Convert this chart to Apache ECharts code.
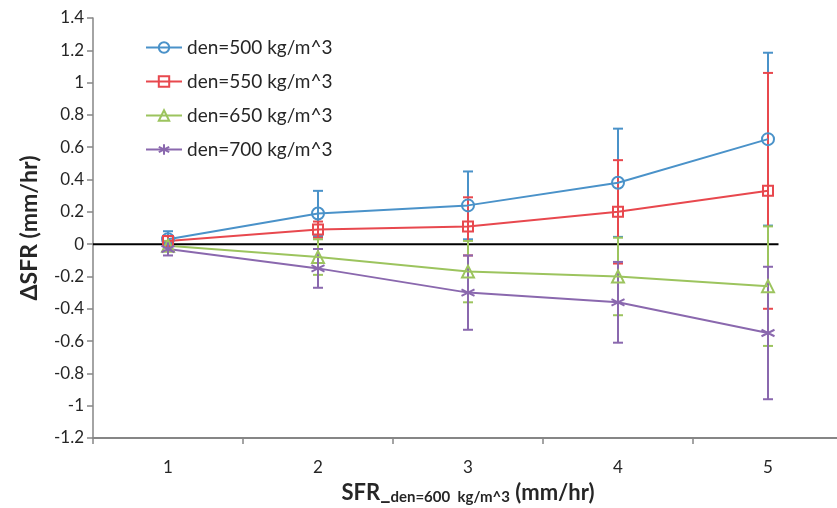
<!DOCTYPE html>
<html>
<head>
<meta charset="utf-8">
<script src="https://cdn.jsdelivr.net/npm/echarts@6/dist/echarts.min.js"></script>
<style>
  html, body { margin: 0; padding: 0; background: #ffffff; }
  #chart { width: 837px; height: 508px; }
</style>
</head>
<body>
<div id="chart"></div>
<script>
// Surface flame-rate differences relative to the 600 kg/m^3 reference density
var categories = ['1', '2', '3', '4', '5'];
var seriesNames = ['den=500 kg/m^3', 'den=550 kg/m^3', 'den=650 kg/m^3', 'den=700 kg/m^3'];

var den500 = [0.03, 0.19, 0.24, 0.38, 0.65];
var den550 = [0.02, 0.09, 0.11, 0.20, 0.33];
var den650 = [-0.01, -0.08, -0.17, -0.20, -0.26];
var den700 = [-0.03, -0.15, -0.30, -0.36, -0.55];

// symmetric error half-widths
var err500 = [0.05, 0.14, 0.21, 0.335, 0.535];
var err550 = [0.03, 0.05, 0.18, 0.32, 0.73];
var err650 = [0.03, 0.11, 0.19, 0.24, 0.37];
var err700 = [0.04, 0.12, 0.23, 0.25, 0.41];

var yTicks = { min: -1.2, max: 1.4, step: 0.2 };

// horizontal zero reference line (x in category units)
var zeroLine = [[0.5, 0], [5.07, 0]];

var colors = ['#4a92c9', '#e8484e', '#9cc45e', '#8a68ae'];
var asterisk = 'path://M5,0L5,10M0.7,2.5L9.3,7.5M0.7,7.5L9.3,2.5';
var symbols = ['circle', 'rect', 'triangle', asterisk];
var symbolSizes = [12, 10, 12, 13];
var values = [den500, den550, den650, den700];
var errors = [err500, err550, err650, err700];

var font = 'Lato, "Liberation Sans", sans-serif';

function errorData(vals, errs) {
  return vals.map(function (v, i) { return [i, v - errs[i], v + errs[i]]; });
}

function errorBarSeries(idx) {
  var c = colors[idx];
  return {
    type: 'custom',
    name: seriesNames[idx] + ' error',
    xAxisIndex: 0,
    yAxisIndex: 0,
    z: 2,
    silent: true,
    data: errorData(values[idx], errors[idx]),
    encode: { x: 0, y: [1, 2] },
    renderItem: function (params, api) {
      var lo = api.coord([api.value(0), api.value(1)]);
      var hi = api.coord([api.value(0), api.value(2)]);
      var half = 5;
      var style = { stroke: c, lineWidth: 2 };
      return {
        type: 'group',
        children: [
          { type: 'line', shape: { x1: lo[0], y1: lo[1], x2: hi[0], y2: hi[1] }, style: style },
          { type: 'line', shape: { x1: lo[0] - half, y1: lo[1], x2: lo[0] + half, y2: lo[1] }, style: style },
          { type: 'line', shape: { x1: hi[0] - half, y1: hi[1], x2: hi[0] + half, y2: hi[1] }, style: style }
        ]
      };
    }
  };
}

function lineSeries(idx) {
  var c = colors[idx];
  return {
    type: 'line',
    name: seriesNames[idx],
    xAxisIndex: 0,
    yAxisIndex: 0,
    z: 3,
    data: values[idx],
    symbol: symbols[idx],
    symbolSize: symbolSizes[idx],
    showSymbol: true,
    animation: false,
    lineStyle: { color: c, width: 2 },
    itemStyle: { color: 'rgba(255,255,255,0)', borderColor: c, borderWidth: 2 },
    emphasis: { disabled: true }
  };
}

var series = [];
series.push({
  type: 'line',
  name: 'zero',
  xAxisIndex: 1,
  yAxisIndex: 0,
  z: 1,
  data: zeroLine,
  symbol: 'none',
  silent: true,
  lineStyle: { color: '#000000', width: 2 }
});
for (var i = 0; i < 4; i++) series.push(errorBarSeries(i));
for (var j = 0; j < 4; j++) series.push(lineSeries(j));

var chart = echarts.init(document.getElementById('chart'), null, { renderer: 'canvas' });
chart.setOption({
  animation: false,
  backgroundColor: '#ffffff',
  grid: { left: 93, top: 18, bottom: 70, right: -6, containLabel: false, outerBoundsMode: 'none' },
  legend: {
    data: seriesNames,
    orient: 'vertical',
    left: 140,
    top: 33,
    itemWidth: 36,
    itemHeight: 13,
    itemGap: 15,
    textStyle: { fontFamily: font, fontSize: 19, color: '#262626' }
  },
  xAxis: [
    {
      type: 'category',
      data: categories,
      boundaryGap: true,
      axisLine: { onZero: false, lineStyle: { color: '#868686', width: 2 } },
      axisTick: { show: true, inside: false, length: 6, lineStyle: { color: '#868686', width: 1.5 } },
      axisLabel: { fontFamily: font, fontSize: 17, color: '#262626', margin: 21 },
      splitLine: { show: false },
      name: '{b|SFR_}{s|den=600  kg/m^3}{b| (mm/hr)}',
      nameLocation: 'middle',
      nameGap: 42,
      nameTextStyle: {
        rich: {
          b: { fontFamily: font, fontSize: 22, fontWeight: 'bold', color: '#262626' },
          s: { fontFamily: font, fontSize: 15, fontWeight: 'bold', color: '#262626', padding: [10, 0, 0, 0] }
        }
      }
    },
    {
      type: 'value',
      min: 0.5,
      max: 5.5,
      show: false
    }
  ],
  yAxis: {
    type: 'value',
    min: yTicks.min,
    max: yTicks.max,
    interval: yTicks.step,
    axisLine: { show: true, onZero: false, lineStyle: { color: '#868686', width: 1.5 } },
    axisTick: { show: true, inside: false, length: 6, lineStyle: { color: '#868686', width: 1.5 } },
    axisLabel: {
      fontFamily: font, fontSize: 17, color: '#262626', margin: 9,
      formatter: function (v) { return String(+v.toFixed(1)); }
    },
    splitLine: { show: false },
    name: '\u0394SFR (mm/hr)',
    nameLocation: 'middle',
    nameGap: 52,
    nameTextStyle: { fontFamily: font, fontSize: 23, fontWeight: 'bold', color: '#262626' }
  },
  series: series
});
</script>
</body>
</html>
